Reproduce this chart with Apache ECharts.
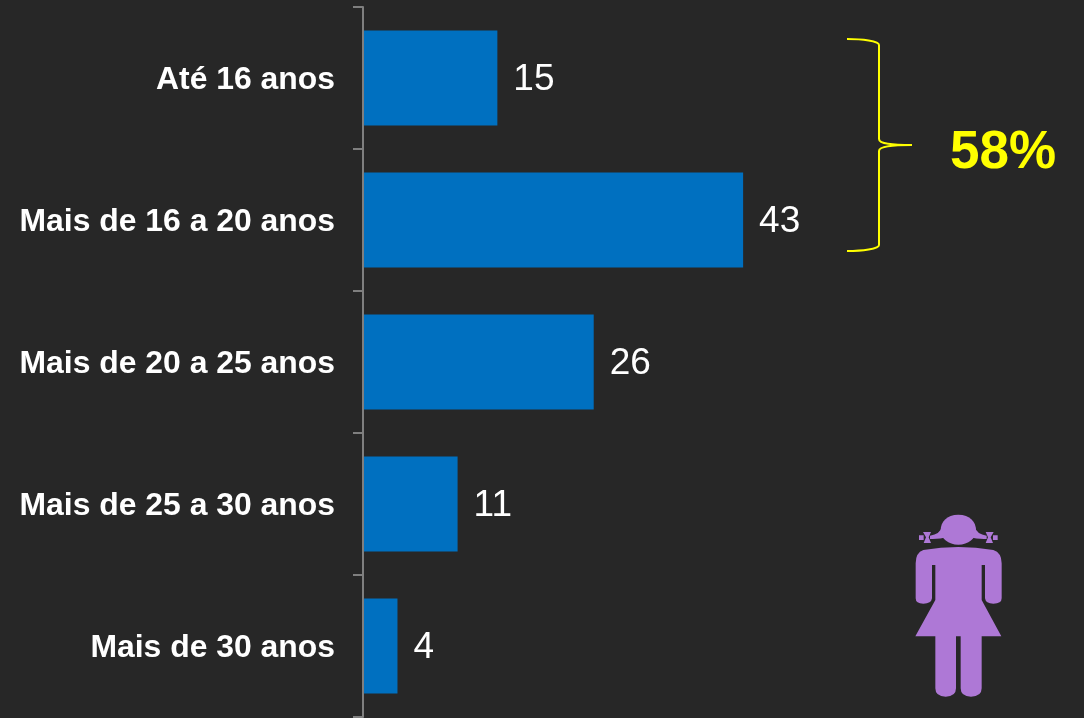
<!DOCTYPE html>
<html>
<head>
<meta charset="utf-8">
<style>
html,body{margin:0;padding:0;background:#272727;}
#main{width:1084px;height:718px;}
</style>
<script src="https://cdn.jsdelivr.net/npm/echarts@6/dist/echarts.min.js"></script>
</head>
<body>
<div id="main"></div>
<script>
var categories=['Até 16 anos','Mais de 16 a 20 anos','Mais de 20 a 25 anos','Mais de 25 a 30 anos','Mais de 30 anos'];
// the labels show them rounded
var values=[15.2,43,26.1,10.7,3.9];
var bracketLabel='58%';

// curly bracket and the girl icon are annotations, not data
var bracePath='M847,39 C862,39 879,41 879,45 L879,139 C879,144 893,145 912,145 C893,145 879,146 879,151 L879,245 C879,249 862,251 847,251';
var girlBody='M100,150 Q205,132 310,150 Q335,158 335,190 L335,295 Q335,311 310,311 Q287,311 285,295 L285,195 L275,195 L275,300 L334,409 L275,409 L275,565 Q275,590 243,590 Q212,590 212,565 L212,409 L198,409 L198,565 Q198,590 167,590 Q136,590 136,565 L136,409 L76,409 L136,300 L136,195 L126,195 L126,295 Q124,311 100,311 Q77,311 77,295 L77,190 Q77,158 100,150 Z';
var girlHead='M205,44 C240,44 258,66 258,90 C258,116 235,134 205,134 C175,134 152,116 152,90 C152,66 170,44 205,44 Z';
var girlBands='M155,82 Q150,103 120,107 L120,117 Q150,118 170,112 Z M240,112 Q260,118 290,117 L290,107 Q260,103 255,82 Z';
var girlTies='M99,96 L123,96 L116,112 L123,129 L101,129 L108,112 Z M287,96 L311,96 L302,112 L309,129 L287,129 L294,112 Z'
	+' M87,106 L101,106 L101,120 L87,120 Z M309,106 L323,106 L323,120 L309,120 Z';
var girlParts=[girlBody,girlHead,girlBands,girlTies];

// the graphic component has no plain path type, so register them as shapes
echarts.graphic.registerShape('braceShape',echarts.graphic.extendPath(bracePath));
var graphics=[
	{
		type:'braceShape',
		style:{fill:null,stroke:'#ffff00',lineWidth:2}
	},
	{
		type:'text',
		x:950,
		y:127,
		style:{
			text:bracketLabel,
			fill:'#ffff00',
			font:'bold 53px "Liberation Sans"'
		}
	}
];
for(var i=0;i<girlParts.length;i++){
	echarts.graphic.registerShape('girlShape'+i,echarts.graphic.extendPath(girlParts[i]));
	graphics.push({
		type:'girlShape'+i,
		x:890,y:500,scaleX:1/3,scaleY:1/3,
		style:{fill:'#ae78d6'}
	});
}

var myChart=echarts.init(document.getElementById('main'),null,{renderer:'canvas'});
var option={
	backgroundColor:'#272727',
	animation:false,
	grid:{
		left:363,
		top:7,
		width:707.2,
		height:710,
		containLabel:false
	},
	xAxis:{
		type:'value',
		min:0,
		max:80,
		show:false
	},
	yAxis:{
		type:'category',
		inverse:true,
		z:5,
		data:categories,
		axisLine:{
			show:true,
			lineStyle:{color:'#7f7f7f',width:2}
		},
		axisTick:{
			show:true,
			length:10,
			lineStyle:{color:'#7f7f7f',width:2}
		},
		axisLabel:{
			margin:28,
			formatter:'{a|{value}}',
			rich:{
				a:{
					color:'#ffffff',
					fontFamily:'Liberation Sans',
					fontWeight:'bold',
					fontSize:31.9,
					padding:[4,0,0,0]
				}
			}
		}
	},
	series:[
		{
			type:'bar',
			data:values,
			barWidth:95,
			itemStyle:{color:'#0070c0'},
			label:{
				show:true,
				position:'right',
				distance:16,
				offset:[0,2],
				color:'#ffffff',
				fontFamily:'Liberation Sans',
				fontSize:37,
				formatter:function(params){
					return Math.round(params.value)
				}
			}
		}
	],
	graphic:graphics
};
myChart.setOption(option);
</script>
</body>
</html>
